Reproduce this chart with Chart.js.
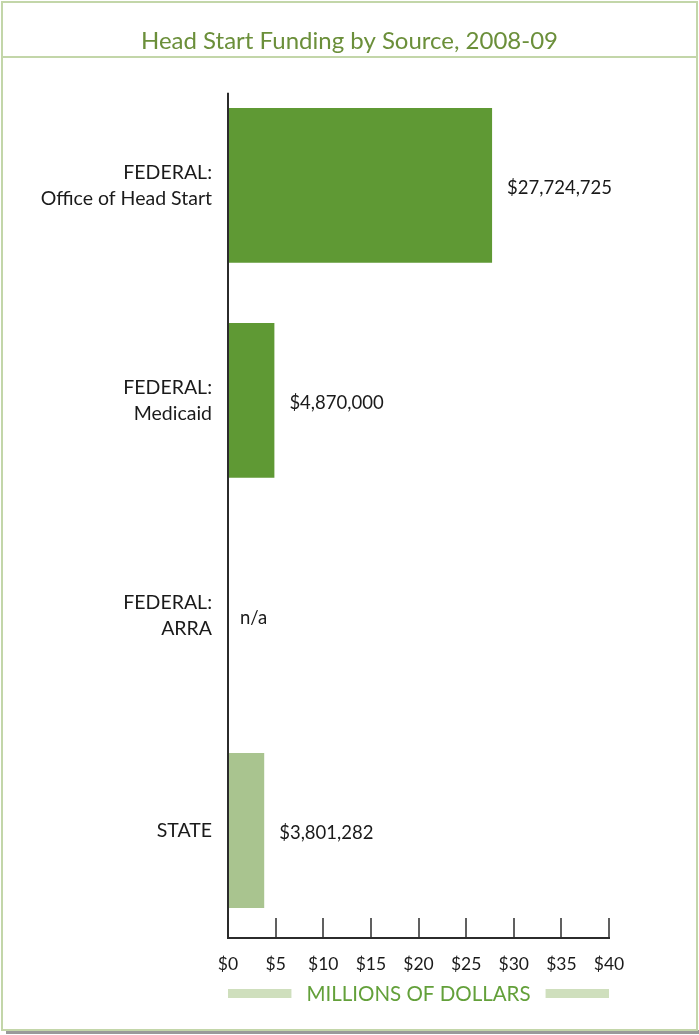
<!DOCTYPE html>
<html>
<head>
<meta charset="utf-8">
<script src="https://cdn.jsdelivr.net/npm/chart.js@4"></script>
<style>
  html, body { margin: 0; padding: 0; background: #fff; }
  canvas { display: block; }
</style>
</head>
<body>
<canvas id="myChart" width="699" height="1035"></canvas>
<script>
const categories = [
	["FEDERAL:", "Office of Head Start"],
	["FEDERAL:", "Medicaid"],
	["FEDERAL:", "ARRA"],
	["STATE"]
]
const fundingMillions = [27.724725, 4.87, null, 3.801282]
const valueLabels = ["$27,724,725", "$4,870,000", "n/a", "$3,801,282"]
const barColors = ["#5f9934", "#5f9934", "#5f9934", "#a9c48f"]
const xTicks = [0, 5, 10, 15, 20, 25, 30, 35, 40]

const FONT = "Lato, 'Open Sans', sans-serif"
const FRAME = "#c3d6a9"
const AXIS = "#2b2b2b"

// frame round the whole chart, plus the line under the title
const framePlugin = {
	id: "frame",
	beforeDraw(chart) {
		const ctx = chart.ctx
		ctx.save()
		ctx.fillStyle = "#9a9a9a"
		ctx.fillRect(6, 1030, 693, 4)
		ctx.strokeStyle = FRAME
		ctx.lineWidth = 2
		ctx.strokeRect(2, 2, chart.width - 4, 1028)
		ctx.beginPath()
		ctx.moveTo(2, 57)
		ctx.lineTo(chart.width - 2, 57)
		ctx.stroke()
		ctx.restore()
	}
}

// y axis line, upward tick marks, value labels and the x axis title strip
const extrasPlugin = {
	id: "extras",
	afterDraw(chart) {
		const ctx = chart.ctx
		const area = chart.chartArea
		const x = chart.scales.x
		ctx.save()

		ctx.strokeStyle = AXIS
		ctx.lineWidth = 2
		ctx.beginPath()
		ctx.moveTo(area.left, area.top + 15)
		ctx.lineTo(area.left, area.bottom)
		ctx.stroke()

		ctx.lineWidth = 1.5
		xTicks.forEach(v => {
			const px = Math.round(x.getPixelForValue(v))
			ctx.beginPath()
			ctx.moveTo(px, area.bottom - 20)
			ctx.lineTo(px, area.bottom)
			ctx.stroke()
		})

		const meta = chart.getDatasetMeta(0)
		ctx.fillStyle = "#1a1a1a"
		ctx.font = "18.5px " + FONT
		ctx.textBaseline = "middle"
		ctx.textAlign = "left"
		meta.data.forEach((bar, i) => {
			const v = fundingMillions[i]
			const end = v === null ? x.getPixelForValue(0) - 3 : bar.x
			ctx.fillText(valueLabels[i], end + 15, bar.y + 3)
		})

		const title = "MILLIONS OF DOLLARS"
		ctx.font = "20.5px " + FONT
		ctx.textAlign = "center"
		const cx = (area.left + area.right) / 2
		const cy = 994
		const w = ctx.measureText(title).width
		ctx.fillStyle = "#63a03a"
		ctx.fillText(title, cx, cy)
		ctx.fillStyle = "#cfdfbd"
		ctx.fillRect(area.left, cy - 5, cx - w / 2 - 15 - area.left, 9)
		ctx.fillRect(cx + w / 2 + 15, cy - 5, area.right - (cx + w / 2 + 15), 9)

		ctx.restore()
	}
}

new Chart("myChart", {
	type: "bar",
	data: {
		labels: categories,
		datasets: [{
			data: fundingMillions,
			backgroundColor: barColors,
			barPercentage: 0.72,
			categoryPercentage: 1
		}]
	},
	options: {
		indexAxis: "y",
		responsive: false,
		animation: false,
		layout: { padding: 0 },
		plugins: {
			legend: { display: false },
			tooltip: { enabled: false },
			title: {
				display: true,
				text: "Head Start Funding by Source, 2008-09",
				color: "#6b8f3a",
				font: { family: FONT, size: 24, weight: "normal" },
				padding: { top: 27, bottom: 22 }
			}
		},
		scales: {
			x: {
				min: 0,
				max: 40,
				afterBuildTicks: scale => {
					scale.ticks = xTicks.map(v => ({ value: v }))
				},
				afterFit: scale => { scale.height = 97 },
				grid: { display: false },
				border: { display: true, color: AXIS, width: 2 },
				ticks: {
					color: "#1a1a1a",
					padding: 8,
					maxRotation: 0,
					font: { family: FONT, size: 17.5 },
					callback: v => "$" + v
				}
			},
			y: {
				afterFit: scale => { scale.width = 228 },
				grid: { display: false },
				border: { display: false },
				ticks: {
					color: "#1a1a1a",
					padding: 8,
					font: { family: FONT, size: 19.5, lineHeight: 1.33 }
				}
			},
			// empty right-hand space so the plot ends where the reference's does
			yRight: {
				type: "category",
				position: "right",
				labels: categories.map(() => ""),
				afterFit: scale => { scale.width = 90 },
				grid: { display: false },
				border: { display: false },
				ticks: { display: false }
			}
		}
	},
	plugins: [framePlugin, extrasPlugin]
})
</script>
</body>
</html>
